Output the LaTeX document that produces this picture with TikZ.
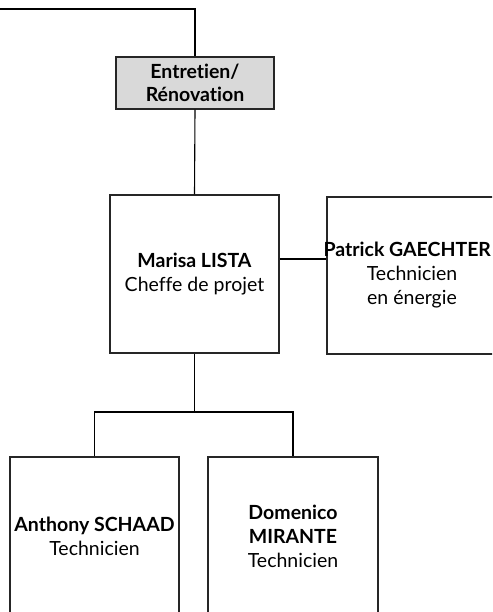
\documentclass[tikz,border=0pt]{standalone}
\usepackage{fontspec}
\setmainfont{Lato}[Ligatures={NoCommon}]
\usepackage{tikz}
\usetikzlibrary{calc}

\begin{document}
\begin{tikzpicture}[x=1pt,y=-1pt,line width=1.1pt,
	personbox/.style={draw=black!85,rectangle,align=center,minimum width=169pt,minimum height=158pt,inner sep=0pt,font=\fontsize{19.5}{24}\selectfont},
	unitbox/.style={draw=black!85,fill=black!15,rectangle,align=center,minimum width=158pt,minimum height=52pt,inner sep=0pt,font=\bfseries\fontsize{19.5}{23}\selectfont}]
	\useasboundingbox (0,0) rectangle (492,612);
	\clip (0,0) rectangle (492,612);
	\coordinate (top) at (0,9);
	\node[unitbox] (renov) at (195,83) {Entretien/\\R\'enovation};
	\node[personbox] (lista) at (194.5,274) {\textbf{Marisa LISTA}\\Cheffe de projet};
	\node[personbox,minimum width=170pt,minimum height=157pt] (gaechter) at (412,275.5) {\makebox[158pt][r]{\textbf{Patrick GAECHTER}}\\Technicien\\en \'energie};
	\node[personbox] (schaad) at (94.5,536) {\textbf{Anthony SCHAAD}\\Technicien};
	\node[personbox,minimum width=170pt] (mirante) at (293,536) {\textbf{Domenico}\\\textbf{MIRANTE}\\Technicien};
	\coordinate (fork) at (194.5,412);
	% connectors
	\draw (top) -| (renov.north);
	\draw (renov.south) -- (lista.north);
	\draw ([yshift=15pt]lista.east) -- ([yshift=15pt]lista.east -| gaechter.west);
	\draw (lista.south) -- (fork);
	\draw (schaad.north) |- (fork) -| (mirante.north);
\end{tikzpicture}
\end{document}
